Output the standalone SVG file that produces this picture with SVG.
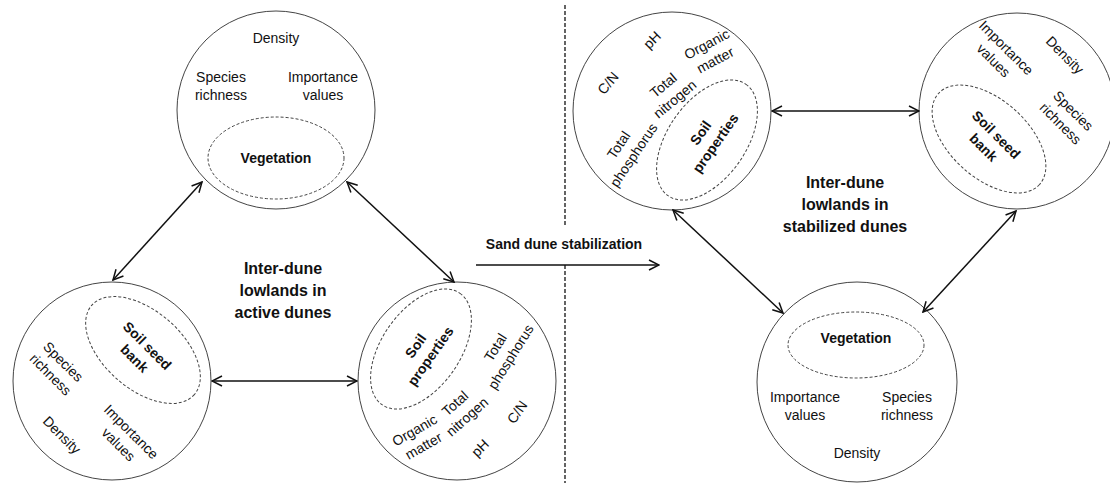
<svg xmlns="http://www.w3.org/2000/svg" width="1110" height="483" viewBox="0 0 1110 483">
<style>
text{font-family:"Liberation Sans",Arial,sans-serif;font-size:14px;fill:#111;text-anchor:middle}
.b{font-weight:bold}
.big{font-weight:bold;font-size:16px}
.c{fill:#fff;stroke:#444;stroke-width:1}
.e{fill:none;stroke:#444;stroke-width:1;stroke-dasharray:3 2}
.a{stroke:#111;stroke-width:1.5;fill:none;marker-end:url(#h)}
.a2{stroke:#111;stroke-width:1.5;fill:none;marker-start:url(#h);marker-end:url(#h)}
.d{stroke:#111;stroke-width:1.3;stroke-dasharray:4 2;fill:none}
</style>
<defs>
<marker id="h" viewBox="0 0 12 12" refX="11" refY="6" markerWidth="12" markerHeight="12" markerUnits="userSpaceOnUse" orient="auto-start-reverse">
<path d="M1,1 L11,6 L1,11" fill="none" stroke="#111" stroke-width="1.5"/>
</marker>
</defs>
<rect width="1110" height="483" fill="#fff"/>

<g id="divider">
<line class="d" x1="565" y1="5" x2="565" y2="225"/>
<line class="d" x1="565" y1="265" x2="565" y2="483"/>
</g>

<g id="veg-active">
<circle class="c" cx="276" cy="110" r="99"/>
<ellipse class="e" cx="276" cy="158" rx="68" ry="41"/>
<text x="276" y="43">Density</text>
<text x="221" y="82">Species</text><text x="221" y="100">richness</text>
<text x="323" y="82">Importance</text><text x="323" y="100">values</text>
<text class="b" x="276" y="163">Vegetation</text>
</g>

<g id="seed-active">
<circle class="c" cx="112" cy="381" r="99"/>
<ellipse class="e" cx="0" cy="0" rx="68" ry="39" transform="translate(143,350) rotate(41)"/>
<g transform="translate(141,352) rotate(45)"><text class="b" y="-4">Soil seed</text><text class="b" y="14">bank</text></g>
<g transform="translate(57,368) rotate(45)"><text y="-4">Species</text><text y="14">richness</text></g>
<g transform="translate(62,435) rotate(45)"><text y="5">Density</text></g>
<g transform="translate(125,438) rotate(45)"><text y="-4">Importance</text><text y="14">values</text></g>
</g>

<g id="soil-active">
<circle class="c" cx="457" cy="381" r="99"/>
<ellipse class="e" cx="0" cy="0" rx="68" ry="39" transform="translate(421,349) rotate(-55)"/>
<g transform="translate(423,351) rotate(-55)"><text class="b" y="-4">Soil</text><text class="b" y="14">properties</text></g>
<g transform="translate(419,438) rotate(-30)"><text y="-4">Organic</text><text y="14">matter</text></g>
<g transform="translate(461,410) rotate(-42)"><text y="-4">Total</text><text y="14">nitrogen</text></g>
<g transform="translate(503,352) rotate(-58)"><text y="-4">Total</text><text y="14">phosphorus</text></g>
<g transform="translate(517,412) rotate(-55)"><text y="5">C/N</text></g>
<g transform="translate(480,448) rotate(-45)"><text y="5">pH</text></g>
</g>

<g id="label-active">
<text class="big" x="283" y="274">Inter-dune</text>
<text class="big" x="283" y="296">lowlands in</text>
<text class="big" x="283" y="318">active dunes</text>
</g>

<g id="label-transition">
<text class="b" x="564" y="249">Sand dune stabilization</text>
</g>

<g id="soil-stable">
<circle class="c" cx="672" cy="111" r="99"/>
<ellipse class="e" cx="0" cy="0" rx="68" ry="39" transform="translate(707,140) rotate(-55)"/>
<g transform="translate(708,138) rotate(-55)"><text class="b" y="-4">Soil</text><text class="b" y="14">properties</text></g>
<g transform="translate(652,40) rotate(-45)"><text y="5">pH</text></g>
<g transform="translate(711,52) rotate(-28)"><text y="-4">Organic</text><text y="14">matter</text></g>
<g transform="translate(608,83) rotate(-50)"><text y="5">C/N</text></g>
<g transform="translate(669,92) rotate(-40)"><text y="-4">Total</text><text y="14">nitrogen</text></g>
<g transform="translate(626,150) rotate(-56)"><text y="-4">Total</text><text y="14">phosphorus</text></g>
</g>

<g id="seed-stable">
<circle class="c" cx="1017" cy="111" r="98"/>
<ellipse class="e" cx="0" cy="0" rx="68" ry="39" transform="translate(989,139) rotate(42)"/>
<g transform="translate(990,141) rotate(45)"><text class="b" y="-4">Soil seed</text><text class="b" y="14">bank</text></g>
<g transform="translate(1000,54) rotate(45)"><text y="-4">Importance</text><text y="14">values</text></g>
<g transform="translate(1065,55) rotate(45)"><text y="5">Density</text></g>
<g transform="translate(1067,117) rotate(45)"><text y="-4">Species</text><text y="14">richness</text></g>
</g>

<g id="veg-stable">
<circle class="c" cx="857" cy="382" r="100"/>
<ellipse class="e" cx="856" cy="345" rx="68" ry="33"/>
<text class="b" x="856" y="343">Vegetation</text>
<text x="805" y="402">Importance</text><text x="805" y="420">values</text>
<text x="907" y="402">Species</text><text x="907" y="420">richness</text>
<text x="857" y="458">Density</text>
</g>

<g id="label-stable">
<text class="big" x="845" y="188">Inter-dune</text>
<text class="big" x="845" y="210">lowlands in</text>
<text class="big" x="845" y="232">stabilized dunes</text>
</g>

<g id="connectors">
<line class="a2" x1="202" y1="182" x2="113" y2="280"/>
<line class="a2" x1="347" y1="182" x2="454" y2="282"/>
<line class="a2" x1="212" y1="381" x2="357" y2="381"/>
<line class="a" x1="476" y1="265" x2="659" y2="265"/>
<line class="a2" x1="772" y1="111" x2="919" y2="111"/>
<line class="a2" x1="673" y1="210" x2="783" y2="313"/>
<line class="a2" x1="1016" y1="211" x2="923" y2="312"/>
</g>
</svg>
